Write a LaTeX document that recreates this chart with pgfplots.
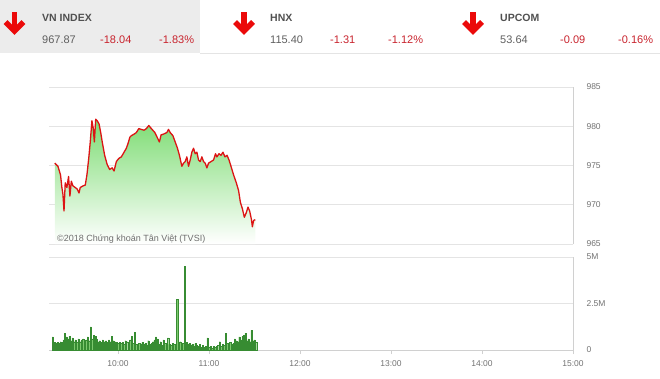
\documentclass[border=0pt]{standalone}
\usepackage{fontspec}
\setmainfont{Liberation Sans}
\usepackage{pgfplots}
\pgfplotsset{compat=1.18}
\definecolor{linered}{RGB}{220,20,20}
\definecolor{fillgreen}{RGB}{125,220,115}
\definecolor{bargreen}{RGB}{125,200,110}
\definecolor{bardark}{RGB}{55,140,50}
\definecolor{gridgray}{RGB}{228,228,228}
\definecolor{framegray}{RGB}{208,208,208}
\definecolor{ticktext}{RGB}{115,115,115}
\definecolor{headgray}{RGB}{236,236,236}
\definecolor{numred}{RGB}{200,35,45}
\definecolor{arrowred}{RGB}{235,10,10}
\definecolor{titlegray}{RGB}{80,80,80}
\definecolor{numgray}{RGB}{95,95,95}
\definecolor{markgray}{RGB}{110,110,110}

\begin{document}
\begin{tikzpicture}
\useasboundingbox (0,0) rectangle (660pt,-378pt);
% header
\fill[headgray] (0,0) rectangle (200pt,-53pt);
\draw[gridgray] (200pt,-53.5pt) -- (660pt,-53.5pt);
\foreach \cx in {14.5,244,473}{
  \draw[arrowred, line width=5.5pt] ({\cx pt},-12pt) -- ({\cx pt},-30pt);
  \draw[arrowred, line width=5.5pt, line join=miter] ({\cx pt-9pt},-22pt) -- ({\cx pt},-31pt) -- ({\cx pt+9pt},-22pt);
}
\tikzset{ttl/.style={anchor=west, inner sep=0, font=\bfseries\fontsize{10.5}{12}\selectfont, text=titlegray},
         val/.style={anchor=west, inner sep=0, font=\fontsize{11}{12}\selectfont, text=numgray},
         chg/.style={anchor=west, inner sep=0, font=\fontsize{11}{12}\selectfont, text=numred}}
\node[ttl] at (42pt,-17.5pt) {VN INDEX};
\node[val] at (42pt,-39.5pt) {967.87};
\node[chg] at (100pt,-39.5pt) {-18.04};
\node[chg] at (159pt,-39.5pt) {-1.83\%};
\node[ttl] at (270pt,-17.5pt) {HNX};
\node[val] at (270pt,-39.5pt) {115.40};
\node[chg] at (330pt,-39.5pt) {-1.31};
\node[chg] at (388pt,-39.5pt) {-1.12\%};
\node[ttl] at (500pt,-17.5pt) {UPCOM};
\node[val] at (500pt,-39.5pt) {53.64};
\node[chg] at (560pt,-39.5pt) {-0.09};
\node[chg] at (618pt,-39.5pt) {-0.16\%};

% price panel
\begin{axis}[
  at={(49pt,-87pt)}, anchor=north west, scale only axis,
  width=524pt, height=157pt,
  xmin=14.5, xmax=360, ymin=965, ymax=985,
  axis x line=none,
  axis y line*=right,
  axis line style={-, draw=framegray, line width=0.8pt},
  ytick={965,970,975,980,985},
  ymajorgrids, grid style={draw=gridgray, line width=0.8pt},
  ytick style={draw=none},
  yticklabel style={anchor=west, xshift=10pt},
  tick label style={font=\fontsize{8.5}{10}\selectfont, text=ticktext},
  /pgf/number format/assume math mode=true,
]
\addplot[draw=none, top color=fillgreen, bottom color=white] coordinates {
(18.3,965)
(18.3,975.3) (20.4,974.9) (22.1,973.8) (23,972.2) (23.7,971.3) (24.4,969.2) (25.2,972.8) (26.3,972.2) (27.4,973.6) (28.3,971.1)
(29.2,973.0) (30.3,972.4) (31.8,972.2) (33.1,972.0) (34.3,971.5) (35.1,972.2) (36.9,972.4) (38.4,972.5) (39.5,973.8) (40.7,975.9)
(41.7,978.0) (42.8,980.7) (43.7,979.7) (44.4,978.0) (45.3,980.9) (46.3,980.7) (47.5,980.3) (48.6,979.2) (49.6,978.0) (51.2,976.3)
(52.9,975.1) (54.5,974.5) (56.1,974.7) (57.4,974.3) (58.9,975.5) (60.5,975.9) (62.2,976.1) (64,976.7) (65.5,977.2) (66.6,977.8)
(67.8,978.6) (68.8,978.8) (70.6,979.0) (72.1,979.2) (73.7,979.7) (75.4,979.6) (77.2,979.5) (78.7,979.7) (80.3,980.1) (82,979.7)
(84.3,979.2) (85.8,978.6) (87.3,978.0) (88.4,978.9) (90,979.0) (92.2,979.2) (93.3,979.6) (94.4,979.2) (96.2,978.8) (97.7,978.0)
(99.2,977.2) (100.5,976.3) (102.1,974.9) (103.2,975.3) (104.3,975.5) (105.4,976.1) (106.5,974.9) (107.6,975.7) (108.7,976.7) (109.8,977.2)
(110.9,976.5) (112,976.7) (113.1,975.7) (114.2,975.5) (115.3,976.1) (116.4,975.5) (117.5,975.3) (118.6,974.7) (119.7,975.3) (121.3,975.5)
(123,975.7) (124.3,976.5) (125.2,976.1) (126.6,976.5) (127.9,976.3) (129.2,976.7) (130.5,976.1) (131.9,976.3) (133.2,975.7) (134.5,974.9)
(136.2,973.8) (138,972.8) (139.5,971.8) (140.7,970.3) (142,969.5) (143.3,968.4) (144.6,969.0) (145.7,969.7) (146.8,969.2) (147.9,968.2)
(148.6,967.2) (149.4,968.0) (150.5,968.1)
(150.5,965)
} -- cycle;
\addplot[linered, line width=1.3pt, line join=round] coordinates {
(18.3,975.3) (20.4,974.9) (22.1,973.8) (23,972.2) (23.7,971.3) (24.4,969.2) (25.2,972.8) (26.3,972.2) (27.4,973.6) (28.3,971.1)
(29.2,973.0) (30.3,972.4) (31.8,972.2) (33.1,972.0) (34.3,971.5) (35.1,972.2) (36.9,972.4) (38.4,972.5) (39.5,973.8) (40.7,975.9)
(41.7,978.0) (42.8,980.7) (43.7,979.7) (44.4,978.0) (45.3,980.9) (46.3,980.7) (47.5,980.3) (48.6,979.2) (49.6,978.0) (51.2,976.3)
(52.9,975.1) (54.5,974.5) (56.1,974.7) (57.4,974.3) (58.9,975.5) (60.5,975.9) (62.2,976.1) (64,976.7) (65.5,977.2) (66.6,977.8)
(67.8,978.6) (68.8,978.8) (70.6,979.0) (72.1,979.2) (73.7,979.7) (75.4,979.6) (77.2,979.5) (78.7,979.7) (80.3,980.1) (82,979.7)
(84.3,979.2) (85.8,978.6) (87.3,978.0) (88.4,978.9) (90,979.0) (92.2,979.2) (93.3,979.6) (94.4,979.2) (96.2,978.8) (97.7,978.0)
(99.2,977.2) (100.5,976.3) (102.1,974.9) (103.2,975.3) (104.3,975.5) (105.4,976.1) (106.5,974.9) (107.6,975.7) (108.7,976.7) (109.8,977.2)
(110.9,976.5) (112,976.7) (113.1,975.7) (114.2,975.5) (115.3,976.1) (116.4,975.5) (117.5,975.3) (118.6,974.7) (119.7,975.3) (121.3,975.5)
(123,975.7) (124.3,976.5) (125.2,976.1) (126.6,976.5) (127.9,976.3) (129.2,976.7) (130.5,976.1) (131.9,976.3) (133.2,975.7) (134.5,974.9)
(136.2,973.8) (138,972.8) (139.5,971.8) (140.7,970.3) (142,969.5) (143.3,968.4) (144.6,969.0) (145.7,969.7) (146.8,969.2) (147.9,968.2)
(148.6,967.2) (149.4,968.0) (150.5,968.1)
};
\end{axis}
\node[anchor=base west, inner sep=0, font=\fontsize{9}{10}\selectfont, text=markgray] at (57pt,-241.5pt) {©2018 Chứng khoán Tân Việt (TVSI)};

% volume panel
\begin{axis}[
  at={(49pt,-257pt)}, anchor=north west, scale only axis,
  width=524pt, height=93pt,
  xmin=14.5, xmax=360, ymin=0, ymax=5,
  axis x line=bottom,
  axis y line*=right,
  axis line style={-, draw=framegray, line width=0.8pt},
  xtick={60,120,180,240,300,360},
  xticklabels={10:00,11:00,12:00,13:00,14:00,15:00},
  ytick={0,2.5,5},
  yticklabels={0,2.5M,5M},
  ymajorgrids, grid style={draw=gridgray, line width=0.8pt},
  ytick style={draw=none},
  xtick style={draw=framegray, line width=0.8pt},
  xtick align=outside, major tick length=4pt,
  yticklabel style={anchor=west, xshift=10pt},
  xticklabel style={yshift=-3pt},
  tick label style={font=\fontsize{8.5}{10}\selectfont, text=ticktext},
  /pgf/number format/assume math mode=true,
]
\addplot[ybar, bar width=1.25pt, fill=bargreen, draw=bardark, line width=0.25pt] coordinates {
(17,0.7) (18,0.4) (19,0.35) (20,0.4) (21,0.35) (22,0.45) (23,0.4) (24,0.55) (25,0.9) (26,0.7)
(27,0.6) (28,0.75) (29,0.5) (30,0.65) (31,0.45) (32,0.55) (33,0.4) (34,0.6) (35,0.45) (36,0.55)
(37,0.6) (38,0.5) (39,0.55) (40,0.7) (41,0.5) (42,1.25) (43,0.6) (44,0.8) (45,0.75) (46,0.6)
(47,0.45) (48,0.5) (49,0.4) (50,0.55) (51,0.45) (52,0.5) (53,0.4) (54,0.55) (55,0.45) (56,0.75)
(57,0.5) (58,0.45) (59,0.4) (60,0.35) (61,0.4) (62,0.35) (63,0.4) (64,0.3) (65,0.5) (66,0.45)
(67,0.3) (68,0.55) (69,0.75) (70,0.35) (71,0.95) (72,0.3) (73,0.25) (74,0.35) (75,0.3) (76,0.4)
(77,0.3) (78,0.35) (79,0.25) (80,0.5) (81,0.3) (82,0.35) (83,0.45) (84,0.55) (85,0.7) (86,0.6)
(87,0.3) (88,0.45) (89,0.25) (90,0.55) (91,0.35) (92,0.3) (93,0.65) (94,0.3) (95,0.25) (96,0.35)
(97,0.3) (98,0.2) (99,2.74) (100,0.3) (101,0.45) (102,0.3) (103,0.35) (104,4.5) (105,0.4) (106,0.3)
(107,0.35) (108,0.25) (109,0.3) (110,0.2) (111,0.35) (112,0.25) (113,0.2) (114,0.3) (115,0.15) (116,0.25)
(117,0.15) (118,0.2) (119,0.65) (120,0.15) (121,0.2) (122,0.1) (123,0.2) (124,0.15) (125,0.2) (126,0.25)
(127,0.45) (128,0.2) (129,0.3) (130,0.25) (131,0.9) (132,0.35) (133,0.3) (134,0.4) (135,0.3) (136,0.35)
(137,0.6) (138,0.5) (139,0.45) (140,0.7) (141,0.55) (142,0.75) (143,0.8) (144,0.9) (145,0.5) (146,0.6)
(147,0.45) (148,1.05) (149,0.5) (150,0.55) (151,0.4)
};
\end{axis}
\end{tikzpicture}
\end{document}
